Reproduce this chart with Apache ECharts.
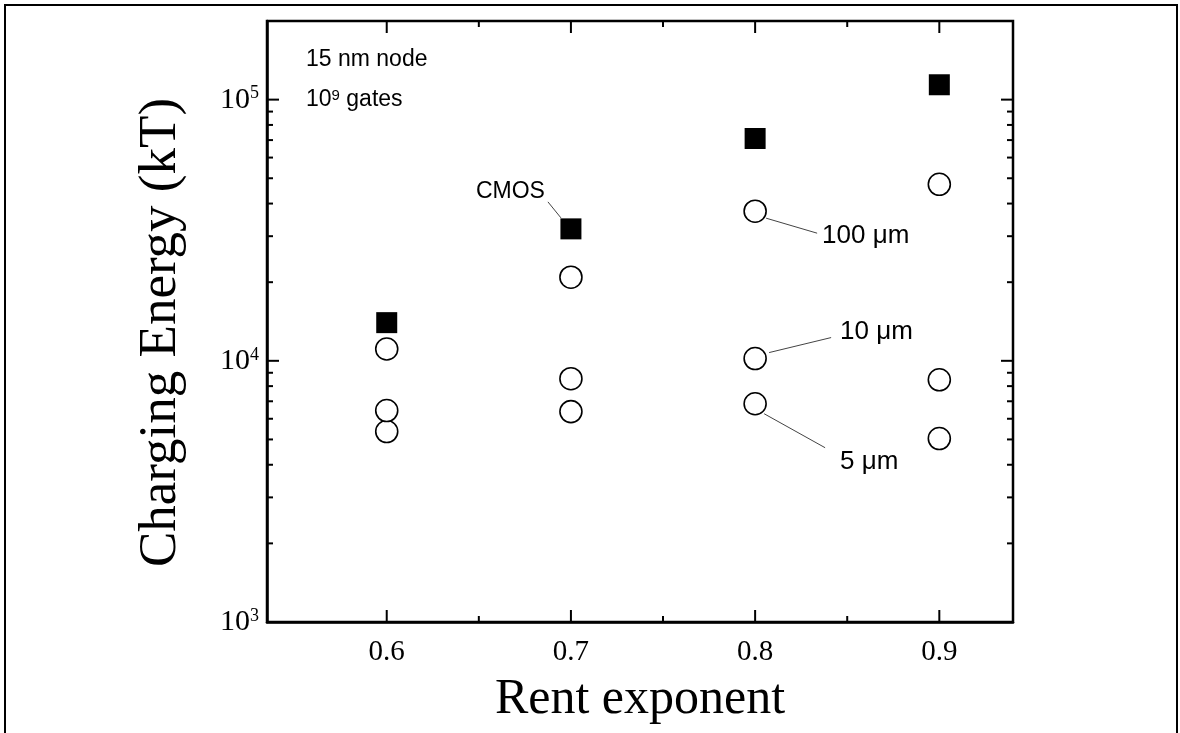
<!DOCTYPE html>
<html>
<head>
<meta charset="utf-8">
<script src="https://cdn.jsdelivr.net/npm/echarts@6/dist/echarts.min.js"></script>
<style>
html, body { margin: 0; padding: 0; background: #fff; }
#chart { width: 1180px; height: 733px; }
</style>
</head>
<body>
<div id="chart"></div>
<script>
// values
var rentExponent = [0.6, 0.7, 0.8, 0.9];
var cmosEnergy = [14000, 32000, 71000, 114000];
var energy100um = [11100, 20900, 37400, 47400];
var energy10um = [6450, 8540, 10200, 8460];
var energy5um = [5360, 6390, 6850, 5040];

var xMajorTicks = [0.6, 0.7, 0.8, 0.9];
var xMinorTicks = [0.65, 0.75, 0.85];
var yMajorTicks = [1e3, 1e4, 1e5];
var yMinorTicks = [2e3, 3e3, 4e3, 5e3, 6e3, 7e3, 8e3, 9e3,
                   2e4, 3e4, 4e4, 5e4, 6e4, 7e4, 8e4, 9e4, 2e5];

var X_MIN = 0.535, X_MAX = 0.94;
var Y_MIN = 1000, Y_MAX = 200000;

var SERIF = '"Liberation Serif", "Times New Roman", serif';
var SANS = '"Liberation Sans", Arial, sans-serif';

function pairs(ys) {
    return rentExponent.map(function (x, i) { return [x, ys[i]]; });
}

var chart = echarts.init(document.getElementById('chart'));

var axisLineStyle = { color: '#000', width: 2.5 };
var circleStyle = { color: '#fff', borderColor: '#000', borderWidth: 1.6, opacity: 1 };

chart.setOption({
    animation: false,
    backgroundColor: '#fff',
    grid: {
        left: 267, right: 167, top: 21, bottom: 111, outerBoundsMode: 'none',
        show: true, borderColor: '#000', borderWidth: 2.5, backgroundColor: 'transparent'
    },
    xAxis: {
        type: 'value', min: X_MIN, max: X_MAX,
        axisLine: { show: true, onZero: false, lineStyle: axisLineStyle },
        axisTick: { show: false },
        splitLine: { show: false },
        axisLabel: {
            customValues: xMajorTicks, margin: 16,
            formatter: function (v) { return v.toFixed(1); },
            color: '#000', fontFamily: SERIF, fontSize: 29
        },
        name: 'Rent exponent',
        nameLocation: 'middle',
        nameGap: 53,
        nameTextStyle: { color: '#000', fontFamily: SERIF, fontSize: 50 }
    },
    yAxis: {
        type: 'log', logBase: 10, min: Y_MIN, max: Y_MAX,
        axisLine: { show: true, onZero: false, lineStyle: axisLineStyle },
        axisTick: { show: false },
        splitLine: { show: false },
        axisLabel: {
            margin: 8,
            formatter: function (v) {
                var e = Math.log10(v);
                if (Math.abs(e - Math.round(e)) > 1e-6) return '';
                return '{b|10}{s|' + Math.round(e) + '}';
            },
            rich: {
                b: { fontFamily: SERIF, fontSize: 30, color: '#000', lineHeight: 30 },
                s: { fontFamily: SERIF, fontSize: 18, color: '#000', verticalAlign: 'top', lineHeight: 18 }
            }
        },
        name: 'Charging Energy (kT)',
        nameLocation: 'middle',
        nameGap: 79,
        nameTextStyle: { color: '#000', fontFamily: SERIF, fontSize: 53, padding: [0, 22, 0, 0] }
    },
    series: [
        {
            name: 'CMOS', type: 'scatter', symbol: 'rect', symbolSize: 21,
            itemStyle: { color: '#000', opacity: 1 }, data: pairs(cmosEnergy)
        },
        {
            name: '5 um', type: 'scatter', symbol: 'circle', symbolSize: 22,
            itemStyle: circleStyle, data: pairs(energy5um)
        },
        {
            name: '10 um', type: 'scatter', symbol: 'circle', symbolSize: 22,
            itemStyle: circleStyle, data: pairs(energy10um)
        },
        {
            name: '100 um', type: 'scatter', symbol: 'circle', symbolSize: 22,
            itemStyle: circleStyle, data: pairs(energy100um)
        }
    ]
});

function px(x, y) {
    return chart.convertToPixel({ xAxisIndex: 0, yAxisIndex: 0 }, [x, y]);
}
function seg(x1, y1, x2, y2, color, width) {
    return {
        type: 'line', silent: true, z: 100,
        shape: { x1: x1, y1: y1, x2: x2, y2: y2 },
        style: { stroke: color, lineWidth: width }
    };
}

// inward tick marks on all four sides, placed through the axis scales
var ticks = [];
function yTicks(values, len) {
    values.forEach(function (v) {
        var l = px(X_MIN, v), r = px(X_MAX, v);
        ticks.push(seg(l[0], l[1], l[0] + len, l[1], '#000', 2));
        ticks.push(seg(r[0], r[1], r[0] - len, r[1], '#000', 2));
    });
}
function xTicks(values, len) {
    values.forEach(function (v) {
        var b = px(v, Y_MIN), t = px(v, Y_MAX);
        ticks.push(seg(b[0], b[1], b[0], b[1] - len, '#000', 2));
        ticks.push(seg(t[0], t[1], t[0], t[1] + len, '#000', 2));
    });
}
yTicks(yMajorTicks, 12);
yTicks(yMinorTicks, 6);
xTicks(xMajorTicks, 12);
xTicks(xMinorTicks, 6);

// annotations, anchored to the marks they point at
function leader(p, dx1, dy1, dx2, dy2) {
    return seg(p[0] + dx1, p[1] + dy1, p[0] + dx2, p[1] + dy2, '#444', 1);
}
function label(p, dx, dy, text, size, align) {
    return {
        type: 'text', silent: true, x: p[0] + dx, y: p[1] + dy,
        style: { text: text, font: size + 'px ' + SANS, fill: '#000',
                 align: align || 'left', verticalAlign: 'middle' }
    };
}

var pCmos = px(0.7, cmosEnergy[1]);
var p100 = px(0.8, energy100um[2]);
var p10 = px(0.8, energy10um[2]);
var p5 = px(0.8, energy5um[2]);

chart.setOption({
    graphic: ticks.concat([
        {
            type: 'rect', silent: true,
            shape: { x: 5, y: 5, width: 1172, height: 740 },
            style: { fill: 'none', stroke: '#000', lineWidth: 2 }
        },
        {
            type: 'text', silent: true, x: 306, y: 60,
            style: { text: '15 nm node', font: '23px ' + SANS, fill: '#000', verticalAlign: 'middle' }
        },
        {
            type: 'text', silent: true, x: 306, y: 100,
            style: {
                text: '{a|10}{s|9}{a| gates}', verticalAlign: 'middle',
                rich: {
                    a: { fontFamily: SANS, fontSize: 23, fill: '#000', lineHeight: 24 },
                    s: { fontFamily: SANS, fontSize: 15, fill: '#000', verticalAlign: 'top', lineHeight: 15 }
                }
            }
        },
        leader(pCmos, -23, -27, -10, -11),
        label(pCmos, -26, -37, 'CMOS', 23, 'right'),
        leader(p100, 11, 7, 62, 22),
        label(p100, 67, 25, '100 \u03bcm', 26),
        leader(p10, 14, -6, 76, -21),
        label(p10, 85, -27, '10 \u03bcm', 26),
        leader(p5, 9, 10, 70, 44),
        label(p5, 85, 58, '5 \u03bcm', 26)
    ])
});
</script>
</body>
</html>
